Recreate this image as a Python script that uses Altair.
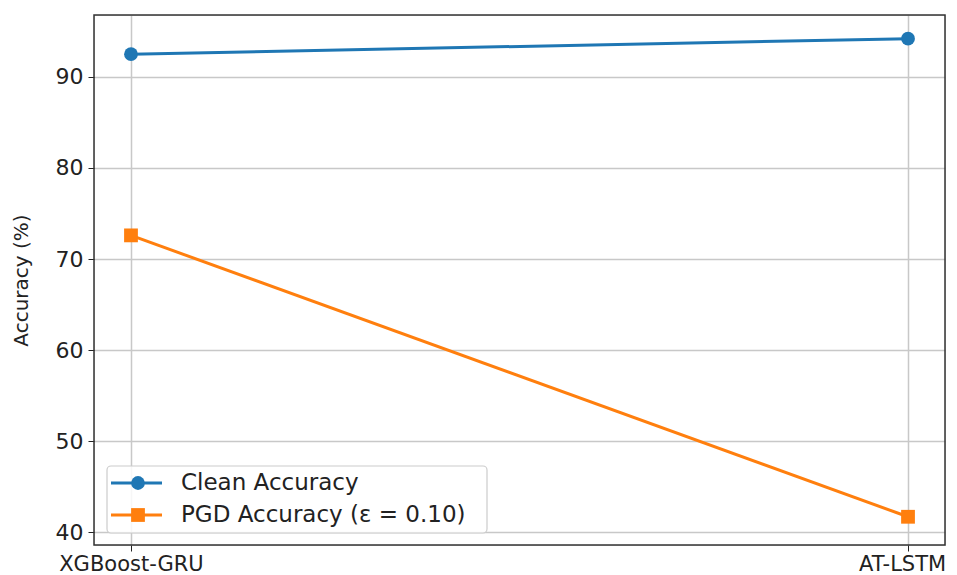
import altair as alt
import pandas as pd

models = ["XGBoost-GRU", "AT-LSTM"]
clean_acc = [92.5, 94.2]
pgd_acc = [72.6, 41.7]
series_names = ["Clean Accuracy", "PGD Accuracy (ε = 0.10)"]
series_colors = ["#1f77b4", "#ff7f0e"]
series_shapes = ["circle", "square"]
y_ticks = [40, 50, 60, 70, 80, 90]

rows = []
for m, c, p in zip(models, clean_acc, pgd_acc):
    rows.append({"model": m, "series": series_names[0], "acc": c})
    rows.append({"model": m, "series": series_names[1], "acc": p})
df = pd.DataFrame(rows)

W, H = 851, 530
FONT = "DejaVu Sans"

x_enc = alt.X("model:N", sort=models,
              scale=alt.Scale(type="point", padding=0.0476),
              axis=alt.Axis(title=None, labelFontSize=21, labelColor="#222",
                            labelFont=FONT, labelPadding=2, tickSize=6,
                            labelOffset={"condition": {"test": "datum.label == 'AT-LSTM'", "value": -6}, "value": 0},
                            tickColor="#222", grid=True, gridColor="#c8c8c8",
                            gridWidth=1.5, domain=False, labelAngle=0))
y_enc = alt.Y("acc:Q", scale=alt.Scale(domain=[38.6, 96.8], nice=False, zero=False),
              axis=alt.Axis(title="Accuracy (%)", titleFontSize=20, titleFont=FONT,
                            titleFontWeight="normal", titleColor="#222", titlePadding=24,
                            values=y_ticks, labelFontSize=22, labelFont=FONT,
                            labelColor="#222", tickSize=6, tickColor="#222",
                            labelPadding=5, grid=True, gridColor="#c8c8c8",
                            gridWidth=1.5, domain=False))
color_enc = alt.Color("series:N", scale=alt.Scale(domain=series_names, range=series_colors), legend=None)
shape_enc = alt.Shape("series:N", scale=alt.Scale(domain=series_names, range=series_shapes), legend=None)

base = alt.Chart(df)
lines = base.mark_line(strokeWidth=3).encode(x=x_enc, y=y_enc, color=color_enc, detail="series:N")
points = base.mark_point(filled=True, size=190, opacity=1).encode(x=x_enc, y=y_enc, color=color_enc, shape=shape_enc)

# Legend (drawn manually to match line+marker symbols)
leg_df = pd.DataFrame({"a": [0]})
legend_layers = [
    alt.Chart(leg_df).mark_rect(fill="white", fillOpacity=0.85, stroke="#cccccc",
                                strokeWidth=1.2, cornerRadius=4).encode(
        x=alt.value(13), x2=alt.value(393), y=alt.value(451), y2=alt.value(518))
]
for i, (name, col, shp) in enumerate(zip(series_names, series_colors, series_shapes)):
    yy = 468 + i * 32
    ldf = pd.DataFrame({"series": [name]})
    legend_layers.append(alt.Chart(ldf).mark_rule(color=col, strokeWidth=3).encode(
        x=alt.value(17), x2=alt.value(68), y=alt.value(yy)))
    legend_layers.append(alt.Chart(ldf).mark_point(filled=True, color=col, shape=shp, size=190, opacity=1).encode(
        x=alt.value(44), y=alt.value(yy)))
    legend_layers.append(alt.Chart(ldf).mark_text(align="left", baseline="middle", fontSize=23,
                                                  font=FONT, color="#222").encode(
        x=alt.value(87), y=alt.value(yy), text="series:N"))

frame = alt.Chart(leg_df).mark_rect(fill=None, stroke="#333", strokeWidth=1.5).encode(
    x=alt.value(0), x2=alt.value(W), y=alt.value(0), y2=alt.value(H))

chart = alt.layer(lines, points, frame, *legend_layers).properties(
    width=W, height=H,
    autosize=alt.AutoSizeParams(type="none"),
    padding={"left": 86, "top": 7, "right": 4, "bottom": 30},
).configure_view(stroke=None).configure(background="white")

chart.save("out.html", embed_options={"renderer": "svg", "actions": False})
